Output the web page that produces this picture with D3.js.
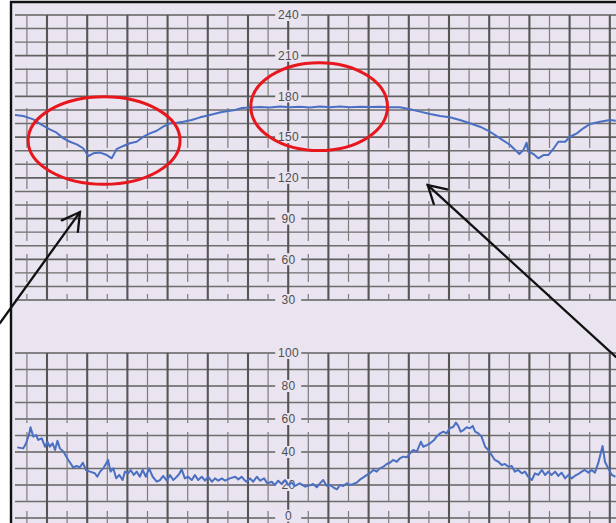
<!DOCTYPE html>
<html>
<head>
<meta charset="utf-8">
<script src="https://cdn.jsdelivr.net/npm/d3@7"></script>
<style>
  html, body { margin: 0; padding: 0; background: #fff; }
  svg { display: block; }
  .tickLabel { font-family: "Liberation Sans", Arial, sans-serif; font-size: 12px; fill: #4f4f4f; text-anchor: middle; letter-spacing: 0.3px; }
</style>
</head>
<body>
<div id="chart"></div>
<script>
"use strict";

// fetal heart rate trace: time (min), bpm
let fhrTime = [0.20, 0.41, 0.66, 0.87, 1.07, 1.24, 1.41, 1.57, 1.74, 1.90, 2.03, 2.15, 2.32, 2.49, 2.61, 2.73,
  2.90, 3.06, 3.23, 3.40, 3.56, 3.73, 3.89, 4.06, 4.23, 4.39, 4.60, 4.81, 5.05, 5.35, 5.68, 5.85, 6.05,
  6.30, 6.55, 6.80, 7.05, 7.29, 7.54, 7.79, 8.04, 8.29, 8.54, 8.79, 9.03, 9.28, 9.53, 9.78, 10.03, 10.28,
  10.53, 10.78, 11.02, 11.27, 11.52, 11.77, 12.02, 12.27, 12.52, 12.75, 12.85, 12.93, 12.97, 13.10, 13.22,
  13.35, 13.47, 13.59, 13.72, 13.89, 14.01, 14.18, 14.34, 14.51, 14.76, 15.00, 15.15];
let fhrValue = [166.3, 165.6, 163.1, 159.0, 155.8, 153.3, 149.1, 146.6, 144.7, 141.8, 136.1, 138.1, 138.6, 136.8, 134.4, 141.1,
  143.5, 145.5, 146.6, 150.3, 152.8, 154.7, 157.7, 160.2, 160.6, 161.4, 162.6, 164.6, 166.3, 168.5, 170.0, 171.5, 171.8,
  172.2, 171.8, 172.5, 172.0, 172.4, 171.9, 172.6, 172.1, 172.5, 172.0, 172.4, 172.2, 172.4, 172.0, 172.0, 170.5, 168.8,
  167.1, 165.6, 164.6, 162.6, 160.2, 157.7, 154.0, 149.1, 144.2, 137.6, 140.5, 145.9, 139.3, 137.6, 134.4,
  136.8, 136.8, 141.1, 146.6, 146.6, 150.3, 152.8, 156.5, 159.7, 161.4, 162.6, 162.1];

// uterine activity trace: time (min), mmHg
let uaTime = [0.26, 0.41, 0.48, 0.56, 0.59, 0.66, 0.73, 0.78, 0.87, 0.95, 1.01, 1.07, 1.14, 1.20, 1.26, 1.32, 1.41, 1.53,
  1.65, 1.74, 1.82, 1.89, 1.97, 2.07, 2.19, 2.25, 2.32, 2.40, 2.47, 2.52, 2.58, 2.65, 2.72, 2.80, 2.88, 2.94, 3.02,
  3.08, 3.16, 3.23, 3.31, 3.38, 3.46, 3.54, 3.63, 3.73, 3.81, 3.89, 3.98, 4.06, 4.14, 4.23, 4.29, 4.35, 4.43, 4.51,
  4.60, 4.68, 4.76, 4.85, 4.93, 5.01, 5.10, 5.18, 5.26, 5.35, 5.43, 5.55, 5.68, 5.76, 5.84, 5.95, 6.05, 6.13, 6.22,
  6.30, 6.40, 6.48, 6.59, 6.67, 6.75, 6.84, 6.92, 7.00, 7.09, 7.17, 7.29, 7.42, 7.54, 7.62, 7.71, 7.79, 7.87, 7.96,
  8.04, 8.12, 8.21, 8.29, 8.37, 8.46, 8.54, 8.62, 8.70, 8.79, 8.87, 8.95, 9.03, 9.12, 9.20, 9.28, 9.37, 9.45, 9.53,
  9.61, 9.70, 9.78, 9.86, 9.95, 10.03, 10.11, 10.20, 10.30, 10.36, 10.45, 10.53, 10.63, 10.69, 10.78, 10.86, 10.94,
  11.02, 11.11, 11.17, 11.23, 11.29, 11.36, 11.44, 11.52, 11.59, 11.65, 11.73, 11.81, 11.90, 11.98, 12.06, 12.14,
  12.23, 12.31, 12.39, 12.48, 12.56, 12.64, 12.72, 12.81, 12.89, 12.97, 13.06, 13.14, 13.22, 13.31, 13.39, 13.47,
  13.55, 13.64, 13.72, 13.80, 13.89, 13.97, 14.05, 14.13, 14.22, 14.30, 14.38, 14.47, 14.55, 14.63, 14.71, 14.82,
  14.88, 14.96, 15.05, 15.14];
let uaValue = [42.8, 42.2, 45.3, 51.3, 55.0, 49.3, 50.3, 47.3, 48.3, 43.2, 46.2, 43.2, 45.3, 41.2, 46.8, 42.2, 40.2, 35.2,
  30.7, 31.5, 30.7, 33.5, 29.1, 28.1, 27.1, 25.0, 28.1, 30.1, 33.1, 35.2, 28.1, 30.1, 24.1, 26.1, 23.0, 28.1, 27.1,
  29.1, 26.1, 28.1, 25.0, 29.1, 25.0, 30.1, 25.0, 22.0, 23.0, 25.5, 22.6, 26.0, 23.0, 25.0, 26.7, 29.5, 24.0, 25.0,
  23.0, 26.0, 23.0, 25.0, 22.6, 25.0, 22.0, 24.0, 22.6, 24.0, 22.6, 24.0, 25.0, 23.4, 25.0, 22.0, 24.0, 22.0, 25.0,
  22.6, 24.0, 21.0, 22.0, 20.0, 22.6, 20.6, 23.0, 20.0, 21.4, 19.4, 21.0, 19.0, 19.8, 20.6, 18.6, 21.0, 23.0, 19.4,
  20.0, 18.6, 17.4, 20.0, 19.4, 21.0, 20.0, 20.6, 21.4, 23.4, 24.6, 26.0, 27.1, 29.1, 28.1, 30.1, 31.1, 32.7, 33.5,
  35.2, 34.1, 36.2, 37.2, 36.8, 39.2, 41.2, 40.2, 46.2, 43.2, 44.2, 45.3, 47.3, 49.3, 51.3, 52.3, 51.3,
  54.4, 55.3, 57.8, 55.8, 52.3, 53.3, 55.0, 54.4, 55.8, 52.3, 51.3, 49.3, 43.2, 41.2, 38.2, 35.2,
  34.1, 32.1, 32.7, 31.1, 31.5, 28.1, 29.1, 27.1, 28.1, 25.0, 23.0, 27.1, 26.1, 29.1, 26.1, 28.1,
  26.1, 28.1, 25.5, 27.5, 24.0, 26.1, 24.0, 25.5, 26.7, 28.1, 29.1, 27.5, 29.1, 27.5, 33.1, 43.6,
  34.1, 30.1, 26.1, 25.0];

let fhrTicks = [30, 60, 90, 120, 150, 180, 210, 240];
let uaTicks = [0, 20, 40, 60, 80, 100];

// highlighted regions: centre time, centre bpm, half-width (min), half-height (bpm)
let circleT = [2.42, 7.77];
let circleBpm = [147.5, 172.5];
let circleHalfT = [1.89, 1.70];
let circleHalfBpm = [32.2, 32.4];

// arrows: tip time / bpm, tail time / bpm
let arrowTipT = [1.82, 10.47];
let arrowTipBpm = [94.8, 114.7];
let arrowTailT = [-0.17, 15.15];
let arrowTailBpm = [13.0, -12.0];

let W = 616, H = 523;
let plotLeft = 15, plotRight = 616;
let paper = "#e9e4ef";

let svg = d3.select("#chart").append("svg")
  .attr("width", W)
  .attr("height", H);

svg.append("rect").attr("width", W).attr("height", H).attr("fill", "#fff");
svg.append("rect")
  .attr("x", 11).attr("y", 2)
  .attr("width", W - 11).attr("height", H - 2)
  .attr("fill", paper);

let x = d3.scaleLinear().domain([0, 15]).range([6.8, 609.8]);
let yFhr = d3.scaleLinear().domain([30, 240]).range([300, 15]);
let yUa = d3.scaleLinear().domain([0, 100]).range([518, 353]);

let gridTimes = d3.range(0.5, 15.01, 0.5);

function drawGrid(y, lo, hi, step, major, bottom, dash) {
  let g = svg.append("g");
  let top = y(hi);
  let bot = bottom || y(lo);

  g.selectAll(".h")
    .data(d3.range(lo, hi + 0.01, step))
    .enter().append("line")
    .attr("x1", plotLeft).attr("x2", plotRight)
    .attr("y1", d => y(d)).attr("y2", d => y(d))
    .attr("stroke", d => d % major === 0 ? "#606060" : "#6e6e6e")
    .attr("stroke-width", d => d % major === 0 ? 1.7 : 1.4);

  g.selectAll(".v")
    .data(gridTimes)
    .enter().append("line")
    .attr("x1", d => x(d)).attr("x2", d => x(d))
    .attr("y1", top).attr("y2", bot)
    .attr("stroke", d => d % 1 === 0 ? "#555" : "#7c7c7c")
    .attr("stroke-width", d => d % 1 === 0 ? 2.1 : 1.2)
    .attr("stroke-dasharray", d => d % 1 === 0 ? null : dash);
  return g;
}

drawGrid(yFhr, 30, 240, 10, 30, null, "40 13 28 12");
drawGrid(yUa, 0, 100, 10, 20, H, "70 9");

// scale labels on the centre line (kept inside the bottom edge)
function drawLabels(y, ticks) {
  let g = svg.append("g");
  let base = d => Math.min(y(d) + 4.3, H - 3);
  g.selectAll("rect")
    .data(ticks)
    .enter().append("rect")
    .attr("x", x(7) - 13).attr("y", d => base(d) - 10.3)
    .attr("width", 26).attr("height", 12)
    .attr("fill", paper);
  g.selectAll("text")
    .data(ticks)
    .enter().append("text")
    .attr("class", "tickLabel")
    .attr("x", x(7) + 0.2)
    .attr("y", base)
    .text(d => d);
}

drawLabels(yFhr, fhrTicks);
drawLabels(yUa, uaTicks);

svg.append("clipPath").attr("id", "plotClip")
  .append("rect").attr("x", plotLeft).attr("y", 0).attr("width", plotRight - plotLeft).attr("height", H);

let fhrLine = d3.line()
  .x(d => x(d[0]))
  .y(d => yFhr(d[1]));

let uaLine = d3.line()
  .x(d => x(d[0]))
  .y(d => yUa(d[1]));

svg.append("path")
  .datum(d3.zip(fhrTime, fhrValue))
  .attr("clip-path", "url(#plotClip)")
  .attr("fill", "none")
  .attr("stroke", "#4a6fc3")
  .attr("stroke-width", 2)
  .attr("stroke-linejoin", "round")
  .attr("d", fhrLine);

svg.append("path")
  .datum(d3.zip(uaTime, uaValue))
  .attr("clip-path", "url(#plotClip)")
  .attr("fill", "none")
  .attr("stroke", "#4a6fc3")
  .attr("stroke-width", 2)
  .attr("stroke-linejoin", "round")
  .attr("d", uaLine);

// red circles
svg.selectAll(".mark")
  .data(circleT)
  .enter().append("ellipse")
  .attr("cx", d => x(d))
  .attr("cy", (d, i) => yFhr(circleBpm[i]))
  .attr("rx", (d, i) => x(d + circleHalfT[i]) - x(d))
  .attr("ry", (d, i) => yFhr(circleBpm[i] - circleHalfBpm[i]) - yFhr(circleBpm[i]))
  .attr("fill", "none")
  .attr("stroke", "#e8161d")
  .attr("stroke-width", 3);

// arrows
let arrowG = svg.append("g")
  .attr("stroke", "#111")
  .attr("stroke-width", 2.3)
  .attr("fill", "none")
  .attr("stroke-linecap", "round");

arrowTipT.forEach(function(t, i) {
  let x1 = x(arrowTailT[i]), y1 = yFhr(arrowTailBpm[i]);
  let x2 = x(t), y2 = yFhr(arrowTipBpm[i]);
  let ang = Math.atan2(y1 - y2, x1 - x2);
  let len = 20, spread = 0.52;
  arrowG.append("line")
    .attr("x1", x1).attr("y1", y1)
    .attr("x2", x2).attr("y2", y2);
  arrowG.append("path")
    .attr("d", `M${x2 + len * Math.cos(ang - spread)},${y2 + len * Math.sin(ang - spread)}L${x2},${y2}L${x2 + len * Math.cos(ang + spread)},${y2 + len * Math.sin(ang + spread)}`);
});

// frame
svg.append("path")
  .attr("d", `M11,${H}L11,2L${W},2`)
  .attr("fill", "none")
  .attr("stroke", "#111")
  .attr("stroke-width", 2.4);
</script>
</body>
</html>
